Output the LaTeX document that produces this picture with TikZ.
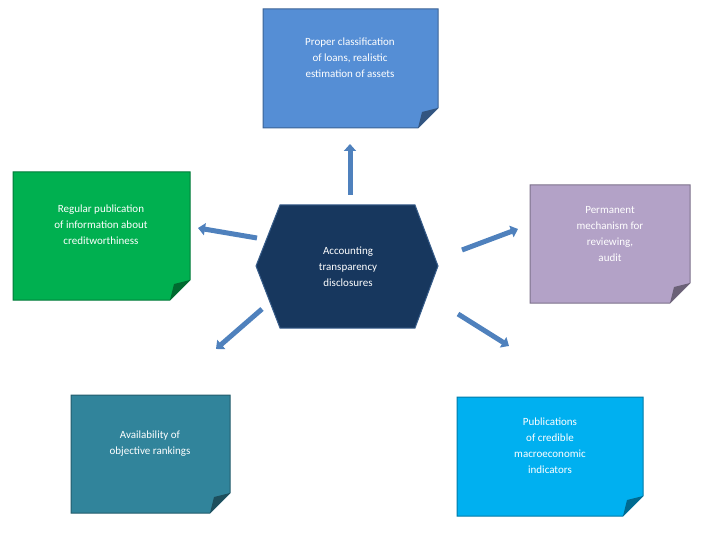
\documentclass[tikz,border=0pt]{standalone}
\usepackage{fontspec}
\setmainfont{Carlito}
\usetikzlibrary{arrows.meta}
\definecolor{cTop}{HTML}{558ED5}
\definecolor{cLeft}{HTML}{00B050}
\definecolor{cRight}{HTML}{B3A2C7}
\definecolor{cBL}{HTML}{31849B}
\definecolor{cBR}{HTML}{00B0F0}
\definecolor{cHex}{HTML}{17375E}
\definecolor{cArr}{HTML}{4F81BD}
\definecolor{cArrB}{HTML}{385D8A}
\tikzset{
  txt/.style={align=center,text=white,font=\fontsize{11}{16}\selectfont},
  arr/.style={line width=5pt,cArr,-{Triangle[width=12pt,length=7pt]}},
}
\newcommand{\notebox}[6]{% name,x1,y1,x2,y2,color
  \fill[#6,draw=#6!70!black,line width=1pt] (#2,#3) -- (#4,#3) -- (#4,#5-20) -- (#4-20,#5) -- (#2,#5) -- cycle;
  \fill[#6!60!black] (#4,#5-20) -- (#4-20,#5) -- (#4-16,#5-16) -- cycle;
  \coordinate (#1) at ({(#2+#4)/2},{(#3+#5)/2});
}
\begin{document}
\begin{tikzpicture}[x=1pt,y=-1pt]
\useasboundingbox (0,0) rectangle (720,540);
\notebox{top}{263}{9}{438}{128}{cTop}
\notebox{left}{13}{172}{190}{300}{cLeft}
\notebox{right}{530}{185}{690}{303}{cRight}
\notebox{bl}{71}{395}{230}{513}{cBL}
\notebox{br}{457}{397}{643}{516}{cBR}
\fill[cHex,draw=cArrB,line width=1pt] (256,266) -- (280,205) -- (415,205) -- (438,266) -- (415,328) -- (280,328) -- cycle;
\node[txt] (hex) at (348,267) {Accounting\\transparency\\disclosures};
\node[txt] (ttop) at (350,58) {Proper classification\\of loans, realistic\\estimation of assets};
\node[txt] (tleft) at (101,225) {Regular publication\\of information about\\creditworthiness};
\node[txt] (tright) at (610,234) {Permanent\\mechanism for\\reviewing,\\audit};
\node[txt] (tbl) at (150,444) {Availability of\\objective rankings};
\node[txt] (tbr) at (550,446) {Publications\\of credible\\macroeconomic\\indicators};
\coordinate (a1s) at (350,195); \coordinate (a1e) at (350,144);
\coordinate (a2s) at (257,238); \coordinate (a2e) at (198,228);
\coordinate (a3s) at (462,250); \coordinate (a3e) at (518,229);
\coordinate (a4s) at (458,314); \coordinate (a4e) at (509,346);
\coordinate (a5s) at (262,309); \coordinate (a5e) at (216,349);
\foreach \s/\e in {a1s/a1e,a2s/a2e,a3s/a3e,a4s/a4e,a5s/a5e}
  \draw[arr] (\s) -- (\e);
\end{tikzpicture}
\end{document}
